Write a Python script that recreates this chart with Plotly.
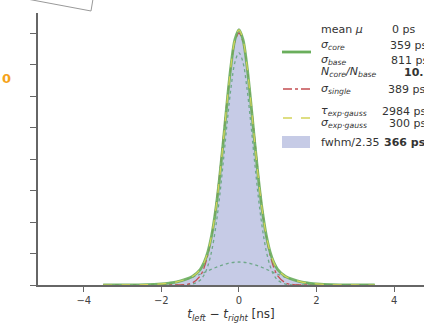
import plotly.graph_objects as go

# ---- data (x in ns, y in axis tick units) ----
x_pos = [0.0, 0.1, 0.2, 0.3, 0.4, 0.5, 0.6, 0.7, 0.8, 0.9, 1.0, 1.2, 1.4, 1.6, 1.8, 2.0, 2.4, 3.0, 3.5]
total_fit = [8.10, 7.81, 7.02, 5.88, 4.61, 3.40, 2.38, 1.60, 1.06, 0.71, 0.49, 0.27, 0.17, 0.10, 0.062, 0.035, 0.009, 0.001, 0.0]
core_fit = [7.37, 7.09, 6.31, 5.20, 3.96, 2.79, 1.83, 1.10, 0.615, 0.318, 0.152, 0.028, 0.004, 0.0, 0.0, 0.0, 0.0, 0.0, 0.0]
base_fit = [0.73, 0.724, 0.708, 0.682, 0.646, 0.604, 0.555, 0.503, 0.449, 0.394, 0.341, 0.244, 0.165, 0.104, 0.062, 0.035, 0.009, 0.001, 0.0]
single_fit = [8.00, 7.74, 7.01, 5.94, 4.71, 3.50, 2.43, 1.58, 0.965, 0.55, 0.29, 0.069, 0.012, 0.001, 0.0, 0.0, 0.0, 0.0, 0.0]
hist_vals = [8.15, 7.80, 7.05, 5.90, 4.60, 3.42, 2.36, 1.62, 1.05, 0.72, 0.48, 0.28, 0.16, 0.10, 0.06, 0.03, 0.01, 0.0, 0.0]

x_ticks = [-4, -2, 0, 2, 4]
x_tick_text = ["\u22124", "\u22122", "0", "2", "4"]
y_ticks = [0, 1, 2, 3, 4, 5, 6, 7, 8]

legend_rows = [
    ("mean <i>\u03bc</i>", "0 ps", False),
    ("<i>\u03c3<sub>core</sub></i>", "359 ps", False),
    ("<i>\u03c3<sub>base</sub></i>", "811 ps", False),
    ("<i>N<sub>core</sub>/N<sub>base</sub></i>", "10.54", True),
    ("<i>\u03c3<sub>single</sub></i>", "389 ps", False),
    ("<i>\u03c4<sub>exp\u00b7gauss</sub></i>", "2984 ps", False),
    ("<i>\u03c3<sub>exp\u00b7gauss</sub></i>", "300 ps", False),
    ("fwhm/2.35", "366 ps", True),
]


def sym(xs, ys):
    xx = [-v for v in reversed(xs[1:])] + list(xs)
    yy = list(reversed(ys[1:])) + list(ys)
    return xx, yy


W, H = 424, 325
ML, MR, MT, MB = 38, 0, 13, 40
PW, PH = W - ML - MR, H - MT - MB


def px(x):
    return (x - ML) / PW


def py(y):
    return 1 - (y - MT) / PH


fig = go.Figure()

hx, hy = sym(x_pos, hist_vals)
fig.add_trace(go.Scatter(x=hx, y=hy, mode="lines", fill="tozeroy",
                         line=dict(color="#c6cbe6", width=0, shape="spline"),
                         fillcolor="#c6cbe6"))
bx, by = sym(x_pos, base_fit)
fig.add_trace(go.Scatter(x=bx, y=by, mode="lines",
                         line=dict(color="#6fa88a", width=1.3, dash="dot", shape="spline")))
cx, cy = sym(x_pos, core_fit)
fig.add_trace(go.Scatter(x=cx, y=cy, mode="lines",
                         line=dict(color="#6fa88a", width=1.3, dash="dot", shape="spline")))
sx, sy = sym(x_pos, single_fit)
fig.add_trace(go.Scatter(x=sx, y=sy, mode="lines",
                         line=dict(color="#c44e52", width=1.3, dash="dashdot", shape="spline")))
tx, ty = sym(x_pos, total_fit)
fig.add_trace(go.Scatter(x=tx, y=ty, mode="lines",
                         line=dict(color="#6aae5c", width=2.8, shape="spline"), opacity=0.9))
fig.add_trace(go.Scatter(x=tx, y=ty, mode="lines",
                         line=dict(color="#d4d45a", width=1.2, dash="dash", shape="spline")))

# legend-like block
row_y = [29, 45, 60, 72, 89, 111, 123, 142]
val_x = [390, 388, 389, 402, 386, 380, 387, 382]
annotations = []
for (lab, val, bold), yy, vx in zip(legend_rows, row_y, val_x):
    annotations.append(dict(x=px(319), y=py(yy), xref="paper", yref="paper", text=lab,
                            showarrow=False, xanchor="left", yanchor="middle",
                            font=dict(size=11, color="#333333", family="DejaVu Sans")))
    annotations.append(dict(x=px(vx), y=py(yy), xref="paper", yref="paper",
                            text=("<b>%s</b>" % val) if bold else val,
                            showarrow=False, xanchor="left", yanchor="middle",
                            font=dict(size=11, color="#333333", family="DejaVu Sans")))
annotations.append(dict(x=px(0), y=py(78), xref="paper", yref="paper", text="<b>0</b>",
                        showarrow=False, xanchor="left", yanchor="middle",
                        font=dict(size=13, color="#f5a31a", family="DejaVu Sans")))

shapes = [
    dict(type="line", xref="paper", yref="paper", x0=px(282), x1=px(311), y0=py(52), y1=py(52),
         line=dict(color="#6aae5c", width=2.8)),
    dict(type="line", xref="paper", yref="paper", x0=px(283), x1=px(310), y0=py(89), y1=py(89),
         line=dict(color="#c44e52", width=1.3, dash="dashdot")),
    dict(type="line", xref="paper", yref="paper", x0=px(283), x1=px(310), y0=py(118), y1=py(118),
         line=dict(color="#d4d45a", width=1.3, dash="dash")),
    dict(type="rect", xref="paper", yref="paper", x0=px(282), x1=px(310), y0=py(148), y1=py(136),
         line=dict(width=0), fillcolor="#c6cbe6"),
    dict(type="path", xref="paper", yref="paper",
         path="M %f,%f L %f,%f L %f,%f" % (px(27), py(-1), px(91), py(11), px(93), py(-1)),
         line=dict(color="#999999", width=1)),
]

fig.update_layout(
    width=W, height=H,
    margin=dict(l=ML, r=MR, t=MT, b=MB),
    paper_bgcolor="white", plot_bgcolor="white",
    showlegend=False,
    annotations=annotations, shapes=shapes,
    xaxis=dict(range=[-5.18, 4.77], tickvals=x_ticks, ticktext=x_tick_text,
               showgrid=False, zeroline=False, showline=True, linecolor="#666666", linewidth=2,
               ticks="outside", ticklen=5, tickcolor="#666666", tickwidth=1,
               tickfont=dict(size=10, color="#444444", family="DejaVu Sans"),
               title=dict(text="<i>t<sub>left</sub></i> \u2212 <i>t<sub>right</sub></i> [ns]",
                          font=dict(size=12, color="#333333", family="DejaVu Sans"), standoff=5)),
    yaxis=dict(range=[0, 8.635], tickvals=y_ticks, showticklabels=False,
               showgrid=False, zeroline=False, showline=True, linecolor="#666666", linewidth=2,
               ticks="outside", ticklen=6, tickcolor="#666666", tickwidth=1),
)

fig.write_html("out.html", config={"displayModeBar": False},
               post_script="document.body.style.margin='0px';document.body.style.overflow='hidden';")
